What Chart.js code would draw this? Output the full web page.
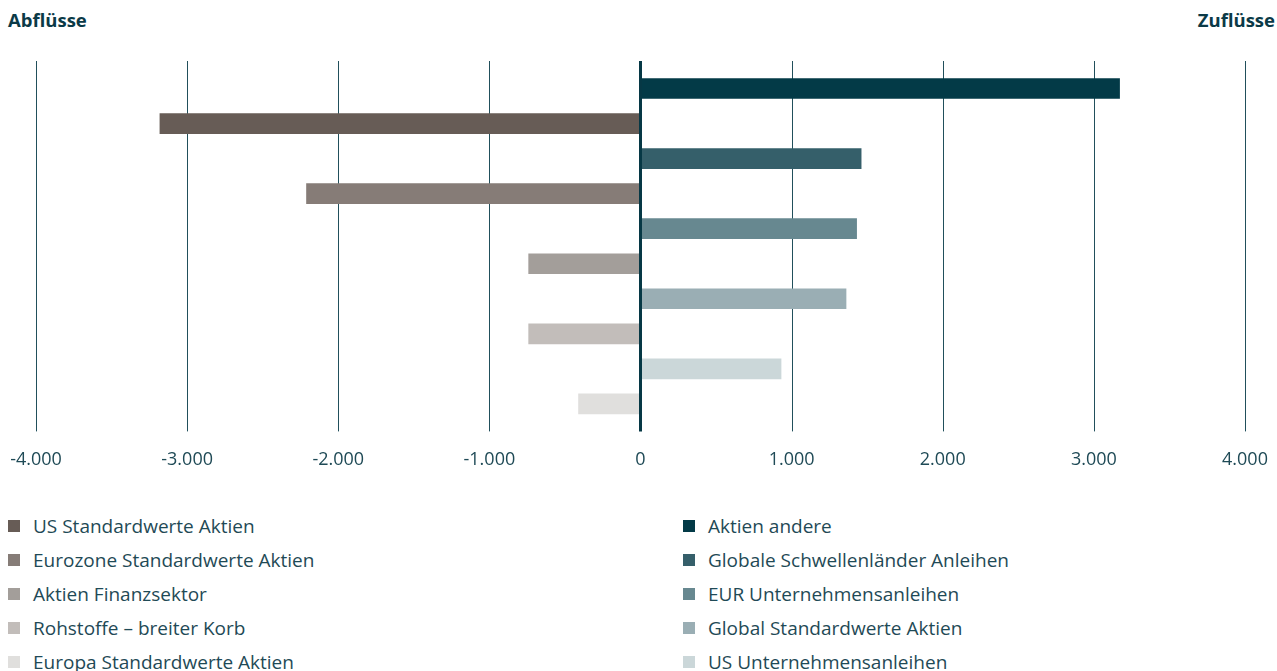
<!DOCTYPE html>
<html><head><meta charset="utf-8">
<script src="https://cdn.jsdelivr.net/npm/chart.js@4.4.1/dist/chart.umd.min.js"></script>
<style>
html,body{margin:0;padding:0;background:#fff;overflow:hidden;}
body{width:1277px;height:671px;position:relative;font-family:"Open Sans","Noto Sans",sans-serif;}
#wrap{position:absolute;left:0;top:0;width:1277px;height:480px;}
.ttl{position:absolute;top:8px;font-weight:700;font-size:18.5px;color:#0b3a47;line-height:24px;}
#legend{position:absolute;left:0;top:509px;width:1277px;}
.col{position:absolute;top:0;}
.item{height:34px;display:flex;align-items:center;font-size:19px;color:#1f4a56;white-space:nowrap;}
.sw{width:12px;height:12px;margin-right:13px;flex:none;}
</style></head>
<body>
<div class="ttl" style="left:8px;">Abflüsse</div>
<div class="ttl" style="right:2px;">Zuflüsse</div>
<div id="wrap"><canvas id="c"></canvas></div>
<div id="legend"><div class="col" id="colL" style="left:8px;"></div><div class="col" id="colR" style="left:683px;"></div></div>
<script>
// Categories top to bottom
const categories = [
  "Aktien andere",
  "US Standardwerte Aktien",
  "Globale Schwellenländer Anleihen",
  "Eurozone Standardwerte Aktien",
  "EUR Unternehmensanleihen",
  "Aktien Finanzsektor",
  "Global Standardwerte Aktien",
  "Rohstoffe – breiter Korb",
  "US Unternehmensanleihen",
  "Europa Standardwerte Aktien"
];
const values = [3170, -3180, 1460, -2210, 1430, -740, 1360, -740, 930, -410];
const colors = ["#033a47", "#675c56", "#355f6a", "#867c77", "#678890", "#a39e9a", "#9aaeb4", "#c2bdba", "#cbd7d9", "#e0dfdd"];
const tickValues = [-4000, -3000, -2000, -1000, 0, 1000, 2000, 3000, 4000];

function fmt(v){
  const s = Math.abs(v).toString().replace(/\B(?=(\d{3})+(?!\d))/g, ".");
  return (v < 0 ? "-" : "") + s;
}

const gridPlugin = {
  id: 'gridExt',
  beforeDatasetsDraw(chart){
    const {ctx, chartArea, scales} = chart;
    ctx.save();
    ctx.strokeStyle = "#214f5b";
    ctx.lineWidth = 1;
    tickValues.forEach(v => {
      if (v === 0) return;
      const x = Math.round(scales.x.getPixelForValue(v)) + 0.5;
      ctx.beginPath();
      ctx.moveTo(x, chartArea.top - 10);
      ctx.lineTo(x, chartArea.bottom + 10);
      ctx.stroke();
    });
    ctx.restore();
  },
  afterDatasetsDraw(chart){
    const {ctx, chartArea, scales} = chart;
    ctx.save();
    ctx.strokeStyle = "#063845";
    ctx.lineWidth = 3;
    const x = scales.x.getPixelForValue(0);
    ctx.beginPath();
    ctx.moveTo(x, chartArea.top - 10);
    ctx.lineTo(x, chartArea.bottom + 10);
    ctx.stroke();
    ctx.restore();
  }
};

new Chart(document.getElementById('c'), {
  type: 'bar',
  data: {
    labels: categories,
    datasets: [{
      data: values,
      backgroundColor: colors,
      borderWidth: 0,
      barThickness: 20
    }]
  },
  options: {
    indexAxis: 'y',
    responsive: true,
    maintainAspectRatio: false,
    animation: false,
    layout: { padding: { left: 36, right: 32, top: 71, bottom: 9 } },
    plugins: { legend: { display: false }, tooltip: { enabled: false }, title: { display: false } },
    scales: {
      x: {
        min: -4000, max: 4000,
        afterBuildTicks(scale){ scale.ticks = tickValues.map(v => ({value: v})); },
        grid: { display: true, drawOnChartArea: false, drawTicks: true, tickLength: 28, color: 'rgba(0,0,0,0)' },
        border: { display: false },
        ticks: {
          padding: 0,
          color: "#1f4a56",
          font: { family: "'Open Sans'", size: 18 },
          maxRotation: 0,
          autoSkip: false,
          callback: (v) => fmt(v)
        }
      },
      y: {
        display: false,
        offset: true,
        grid: { display: false }
      }
    }
  },
  plugins: [gridPlugin]
});

// HTML legend: left column = outflows, right column = inflows
const colL = document.getElementById('colL');
const colR = document.getElementById('colR');
categories.forEach((name, i) => {
  const d = document.createElement('div');
  d.className = 'item';
  const sw = document.createElement('span');
  sw.className = 'sw';
  sw.style.background = colors[i];
  const t = document.createElement('span');
  t.textContent = name;
  d.appendChild(sw); d.appendChild(t);
  (values[i] < 0 ? colL : colR).appendChild(d);
});
</script>
</body></html>
